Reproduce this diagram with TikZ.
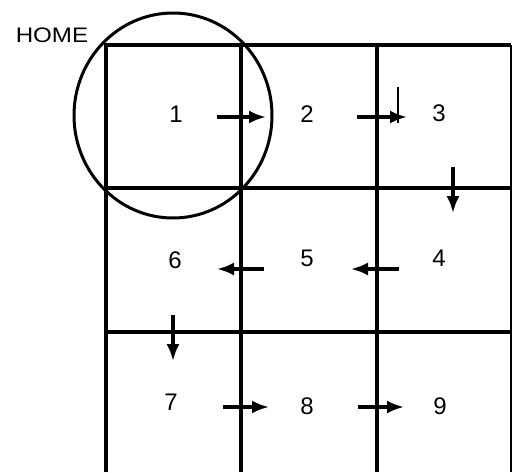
\documentclass[tikz,border=0pt]{standalone}
\usepackage{fontspec}
\setmainfont{Liberation Sans}
\usetikzlibrary{arrows.meta}
\tikzset{
  grid/.style={line width=3.2pt},
  thin grid/.style={line width=1.6pt},
  num/.style={font=\fontsize{24}{24}\selectfont, inner sep=0pt},
  flow/.style={line width=3.2pt, -{Latex[length=17pt,width=13pt]}},
  tick/.style={line width=1.8pt},
  home/.style={line width=3pt}
}
\begin{document}
\begin{tikzpicture}[x=1pt,y=-1pt]
\useasboundingbox (0,0) rectangle (512,472);
\fill[white] (0,0) rectangle (512,472);
% grid
\draw[grid] (106,472) -- (106,45) -- (511,45);
\draw[grid] (241,45) -- (241,472);
\draw[grid] (377,45) -- (377,472);
\draw[grid] (106,188) -- (511,188);
\draw[grid] (106,332) -- (511,332);
\draw[thin grid] (511,45) -- (511,472);
% home circle
\draw[home] (173,115.5) ellipse [x radius=99, y radius=102.5];
\node[font=\fontsize{21}{21}\selectfont, inner sep=0pt, xscale=1.15] (home) at (52,35.5) {HOME};
% numbers
\node[num] (n1) at (176,114) {1};
\node[num] (n2) at (307,114) {2};
\node[num] (n3) at (439,113) {3};
\node[num] (n4) at (439,258) {4};
\node[num] (n5) at (307,258) {5};
\node[num] (n6) at (175,260) {6};
\node[num] (n7) at (171,402) {7};
\node[num] (n8) at (307,406) {8};
\node[num] (n9) at (440,406) {9};
% arrow endpoints
\coordinate (a12s) at (217,117); \coordinate (a12e) at (266,117);
\coordinate (a23s) at (357,117); \coordinate (a23e) at (407,117);
\coordinate (a34s) at (453,167); \coordinate (a34e) at (453,213);
\coordinate (a45s) at (399,269); \coordinate (a45e) at (351,269);
\coordinate (a56s) at (264,269); \coordinate (a56e) at (217,269);
\coordinate (a67s) at (173,315); \coordinate (a67e) at (173,361);
\coordinate (a78s) at (223,407); \coordinate (a78e) at (269,407);
\coordinate (a89s) at (358,407); \coordinate (a89e) at (404,407);
\coordinate (ts) at (398,87); \coordinate (te) at (398,123);
\draw[flow] (a12s) -- (a12e);
\draw[flow] (a23s) -- (a23e);
\draw[tick] (ts) -- (te);
\draw[flow] (a34s) -- (a34e);
\draw[flow] (a45s) -- (a45e);
\draw[flow] (a56s) -- (a56e);
\draw[flow] (a67s) -- (a67e);
\draw[flow] (a78s) -- (a78e);
\draw[flow] (a89s) -- (a89e);
\end{tikzpicture}
\end{document}
